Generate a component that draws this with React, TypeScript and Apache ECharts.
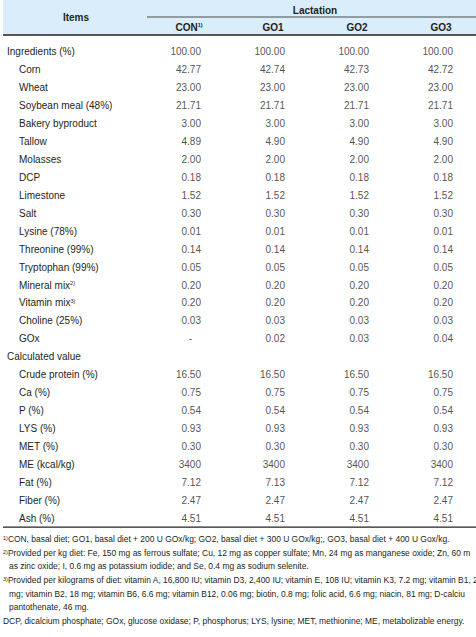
import React, { useEffect, useRef } from "react";
import * as echarts from "echarts";

const stubTitle = "Items";
const groupTitle = "Lactation";
const columns = ["CON", "GO1", "GO2", "GO3"];
const columnNotes = ["1)", "", "", ""];
const sectionTitles = ["Ingredients (%)", "Calculated value"];
const integerRows = ["ME (kcal/kg)"];

const rowLabels = [
  "Ingredients (%)",
  "Corn",
  "Wheat",
  "Soybean meal (48%)",
  "Bakery byproduct",
  "Tallow",
  "Molasses",
  "DCP",
  "Limestone",
  "Salt",
  "Lysine (78%)",
  "Threonine (99%)",
  "Tryptophan (99%)",
  "Mineral mix",
  "Vitamin mix",
  "Choline (25%)",
  "GOx",
  "Calculated value",
  "Crude protein (%)",
  "Ca (%)",
  "P (%)",
  "LYS (%)",
  "MET (%)",
  "ME (kcal/kg)",
  "Fat (%)",
  "Fiber (%)",
  "Ash (%)",
];
const rowNotes: Record<string, string> = { "Mineral mix": "2)", "Vitamin mix": "3)" };

const conValues = [100, 42.77, 23, 21.71, 3, 4.89, 2, 0.18, 1.52, 0.3, 0.01, 0.14, 0.05, 0.2, 0.2, 0.03, null, null, 16.5, 0.75, 0.54, 0.93, 0.3, 3400, 7.12, 2.47, 4.51];
const go1Values = [100, 42.74, 23, 21.71, 3, 4.9, 2, 0.18, 1.52, 0.3, 0.01, 0.14, 0.05, 0.2, 0.2, 0.03, 0.02, null, 16.5, 0.75, 0.54, 0.93, 0.3, 3400, 7.13, 2.47, 4.51];
const go2Values = [100, 42.73, 23, 21.71, 3, 4.9, 2, 0.18, 1.52, 0.3, 0.01, 0.14, 0.05, 0.2, 0.2, 0.03, 0.03, null, 16.5, 0.75, 0.54, 0.93, 0.3, 3400, 7.12, 2.47, 4.51];
const go3Values = [100, 42.72, 23, 21.71, 3, 4.9, 2, 0.18, 1.52, 0.3, 0.01, 0.14, 0.05, 0.2, 0.2, 0.03, 0.04, null, 16.5, 0.75, 0.54, 0.93, 0.3, 3400, 7.12, 2.47, 4.51];
const columnValues = [conValues, go1Values, go2Values, go3Values];

const footnoteNotes = ["1)", "2)", "", "3)", "", "", ""];
const footnoteTexts = [
  "CON, basal diet; GO1, basal diet + 200 U GOx/kg; GO2, basal diet + 300 U GOx/kg;, GO3, basal diet + 400 U Gox/kg.",
  "Provided per kg diet: Fe, 150 mg as ferrous sulfate; Cu, 12 mg as copper sulfate; Mn, 24 mg as manganese oxide; Zn, 60 m",
  "as zinc oxide; I, 0.6 mg as potassium iodide; and Se, 0.4 mg as sodium selenite.",
  "Provided per kilograms of diet: vitamin A, 16,800 IU; vitamin D3, 2,400 IU; vitamin E, 108 IU; vitamin K3, 7.2 mg; vitamin B1, 2",
  "mg; vitamin B2, 18 mg; vitamin B6, 6.6 mg; vitamin B12, 0.06 mg; biotin, 0.8 mg; folic acid, 6.6 mg; niacin, 81 mg; D-calciu",
  "pantothenate, 46 mg.",
  "DCP, dicalcium phosphate; GOx, glucose oxidase; P, phosphorus; LYS, lysine; MET, methionine; ME, metabolizable energy.",
];
const footnoteIndented = [false, false, true, false, true, true, false];

const FONT = "'Liberation Sans', Arial, Helvetica, sans-serif";
const TEXT = "#231f20";
const W = 476;
const H = 637;
const GRID_TOP = 34.9;
const GRID_BOTTOM = 527.1;

export default function App() {
  const ref = useRef<HTMLDivElement>(null);
  useEffect(() => {
    if (!ref.current) return;
    const chart = echarts.init(ref.current, undefined, { renderer: "svg" });

    const series = columns.map((col, ci) => ({
      type: "scatter",
      name: col,
      symbolSize: 0,
      silent: true,
      data: rowLabels
        .map((row, ri) => {
          if (sectionTitles.indexOf(row) >= 0 && ri !== 0) return null;
          return { value: [col, row, columnValues[ci][ri]] };
        })
        .filter((d) => d !== null),
      label: {
        show: true,
        position: "left",
        distance: 0,
        fontFamily: FONT,
        fontSize: 10,
        color: TEXT,
        formatter: (p: any) => {
          const v = p.value[2];
          const row = p.value[1];
          if (v === null || v === undefined) return "{dash|-}";
          return integerRows.indexOf(row) >= 0 ? String(Math.round(v)) : Number(v).toFixed(2);
        },
        rich: {
          dash: { fontFamily: FONT, fontSize: 10, color: TEXT, padding: [0, 9, 0, 0] },
        },
      },
    }));

    const graphic: any[] = [
      { type: "rect", shape: { x: 3, y: 0, width: W - 3, height: GRID_TOP }, style: { fill: "#d9eefa" }, z: -10 },
      { type: "line", shape: { x1: 147, y1: 17, x2: W, y2: 17 }, style: { stroke: "#4a4a4a", lineWidth: 1 } },
      { type: "line", shape: { x1: 3, y1: GRID_TOP, x2: W, y2: GRID_TOP }, style: { stroke: "#231f20", lineWidth: 1.5 } },
      { type: "line", shape: { x1: 3, y1: GRID_BOTTOM, x2: W, y2: GRID_BOTTOM }, style: { stroke: "#231f20", lineWidth: 1.2 } },
      {
        type: "text",
        x: 76,
        y: 17,
        style: { text: stubTitle, fontFamily: FONT, fontSize: 10, fontWeight: "bold", fill: TEXT, align: "center", verticalAlign: "middle" },
      },
    ];
    const footTop = GRID_BOTTOM + 12;
    const footStep = 13.65;
    footnoteTexts.forEach((t, i) => {
      const note = footnoteNotes[i];
      graphic.push({
        type: "text",
        x: footnoteIndented[i] ? 9 : 3,
        y: footTop + i * footStep,
        style: {
          text: (note ? `{sup|${note}}` : "") + t,
          fontFamily: FONT,
          fontSize: 8.45,
          fill: TEXT,
          align: "left",
          verticalAlign: "middle",
          rich: {
            sup: { fontFamily: FONT, fontSize: 5.5, fill: TEXT, verticalAlign: "top" },
          },
        },
      });
    });

    chart.setOption({
      animation: false,
      grid: { left: 201, right: W - 453, top: GRID_TOP, bottom: H - GRID_BOTTOM, containLabel: false },
      xAxis: {
        type: "category",
        position: "top",
        data: columns,
        boundaryGap: false,
        axisLine: { show: false },
        axisTick: { show: false },
        splitLine: { show: false },
        name: groupTitle,
        nameLocation: "middle",
        nameGap: 28,
        nameTextStyle: { fontFamily: FONT, fontSize: 10, fontWeight: "bold", color: TEXT, padding: [0, 24, 0, 0] },
        axisLabel: {
          margin: 11,
          interval: 0,
          padding: [0, 24, 0, 0],
          formatter: (v: string, i: number) => `{b|${v}}` + (columnNotes[i] ? `{sup|${columnNotes[i]}}` : ""),
          rich: {
            b: { fontFamily: FONT, fontSize: 10, fontWeight: "bold", color: TEXT },
            sup: { fontFamily: FONT, fontSize: 5.5, fontWeight: "bold", color: TEXT, verticalAlign: "top" },
          },
        },
      },
      yAxis: {
        type: "category",
        inverse: true,
        data: rowLabels,
        axisLine: { show: false },
        axisTick: { show: false },
        splitLine: { show: false },
        axisLabel: {
          interval: 0,
          margin: 194,
          align: "left",
          formatter: (v: string) => {
            if (sectionTitles.indexOf(v) >= 0) return `{h|${v}}`;
            return `{s|${v}}` + (rowNotes[v] ? `{sup|${rowNotes[v]}}` : "");
          },
          rich: {
            h: { fontFamily: FONT, fontSize: 10, color: TEXT },
            s: { fontFamily: FONT, fontSize: 10, color: TEXT, padding: [0, 0, 0, 12] },
            sup: { fontFamily: FONT, fontSize: 5.5, color: TEXT, verticalAlign: "top" },
          },
        },
      },
      series,
      graphic,
    });
    return () => chart.dispose();
  }, []);
  return (
    <div
      ref={ref}
      style={{ position: "fixed", left: 0, top: 0, width: W, height: H, background: "#ffffff" }}
    />
  );
}
